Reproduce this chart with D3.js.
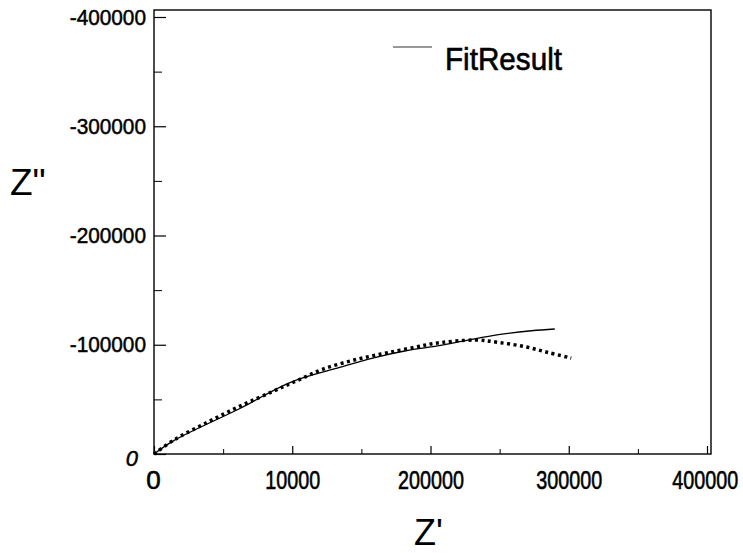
<!DOCTYPE html>
<html>
<head>
<meta charset="utf-8">
<script src="https://cdn.jsdelivr.net/npm/d3@7"></script>
<style>
  html, body { margin: 0; padding: 0; background: #fff; }
  svg { display: block; }
  text { font-family: "Liberation Sans", Arial, sans-serif; fill: #000; }
</style>
</head>
<body>
<svg id="chart" width="743" height="553"></svg>
<script>
// ---- data (Z' in ohm, Z'' in ohm; Z'' negative = capacitive, drawn upward) ----
const fitZre  = [0, 14600, 62500, 98400, 134300, 158200, 182200, 206100, 225300, 249200, 273100, 289900];
const fitZim  = [0, -12500, -41900, -65400, -79200, -87800, -94500, -99100, -103700, -109200, -112800, -114400];
const dataZre = [0, 14600, 38600, 62500, 86400, 103200, 122300, 146300, 170200, 194100, 201300, 232500, 249200, 268400, 285100, 301800];
const dataZim = [0, -13000, -29000, -44000, -57500, -67000, -77700, -86500, -93000, -99100, -101000, -104300, -102100, -98200, -92900, -87800];
const xTickValues = [0, 100000, 200000, 300000, 400000];
const xTickLabels = ["0", "10000", "200000", "300000", "400000"];
const yTickValues = [0, -100000, -200000, -300000, -400000];
const yTickLabels = ["0", "-100000", "-200000", "-300000", "-400000"];
const xMinorTicks = [50000, 150000, 250000, 350000];
const yMinorTicks = [-50000, -150000, -250000, -350000];
const legendLabel = "FitResult";

const svg = d3.select("#chart");
const L = 154, R = 711, T = 10, B = 454;

const x = d3.scaleLinear().domain([0, 400000]).range([L, 707]);
const y = d3.scaleLinear().domain([0, -400000]).range([B, 17]);

// frame
svg.append("rect")
  .attr("x", L).attr("y", T).attr("width", R - L).attr("height", B - T)
  .attr("fill", "none").attr("stroke", "#000").attr("stroke-width", 1.4);

// x axis (ticks inward)
const xAxis = svg.append("g").attr("transform", `translate(0,${B})`)
  .call(d3.axisBottom(x).tickValues(xTickValues).tickSize(-8).tickPadding(17)
        .tickFormat((d, i) => xTickLabels[i]));
xAxis.select(".domain").remove();
xAxis.selectAll("line").attr("stroke", "#000").attr("stroke-width", 1.2);
xAxis.selectAll("text")
  .attr("font-size", 26)
  .attr("font-family", "Liberation Sans, Arial, sans-serif")
  .attr("stroke", "#000").attr("stroke-width", 0.6)
  .attr("transform", "scale(0.76,1)");
xAxis.selectAll(".tick").filter(d => d === 0).select("text").attr("transform", null).attr("dx", -1);
xAxis.selectAll(".tick").filter(d => d === 400000).select("text").attr("dx", -3);

const xMinor = svg.append("g").attr("transform", `translate(0,${B})`)
  .call(d3.axisBottom(x).tickValues(xMinorTicks).tickSize(-5).tickFormat(""));
xMinor.select(".domain").remove();
xMinor.selectAll("line").attr("stroke", "#000").attr("stroke-width", 1);

// y axis (ticks inward)
const yAxis = svg.append("g").attr("transform", `translate(${L},0)`)
  .call(d3.axisLeft(y).tickValues(yTickValues).tickSize(-12).tickPadding(8)
        .tickFormat((d, i) => yTickLabels[i]));
yAxis.select(".domain").remove();
yAxis.selectAll("line").attr("stroke", "#000").attr("stroke-width", 1.2);
yAxis.selectAll("text")
  .attr("font-size", 22)
  .attr("font-family", "Liberation Sans, Arial, sans-serif")
  .attr("stroke", "#000").attr("stroke-width", 0.5)
  .each(function(d, i) {
    const s = yTickLabels[i];
    if (s.length > 1) d3.select(this).attr("textLength", s.length * 10.9).attr("lengthAdjust", "spacingAndGlyphs");
  });
yAxis.selectAll(".tick").filter(d => d === 0).select("text")
  .attr("font-style", "italic").attr("x", -16).attr("dy", "0.5em");

const yMinor = svg.append("g").attr("transform", `translate(${L},0)`)
  .call(d3.axisLeft(y).tickValues(yMinorTicks).tickSize(-8).tickFormat(""));
yMinor.select(".domain").remove();
yMinor.selectAll("line").attr("stroke", "#000").attr("stroke-width", 1);

// axis titles
svg.append("text").attr("x", 10).attr("y", 195)
  .attr("font-size", 37).text("Z\"");
svg.append("text").attr("x", 414).attr("y", 545)
  .attr("font-size", 36).text("Z'");

// series
const line = d3.line().x(d => x(d[0])).y(d => y(d[1])).curve(d3.curveCatmullRom);
const fitPts = fitZre.map((v, i) => [v, fitZim[i]]);
const dataPts = dataZre.map((v, i) => [v, dataZim[i]]);

svg.append("path").datum(fitPts).attr("d", line)
  .attr("fill", "none").attr("stroke", "#000").attr("stroke-width", 1.3);

svg.append("path").datum(dataPts).attr("d", line)
  .attr("fill", "none").attr("stroke", "#000").attr("stroke-width", 3.5)
  .attr("stroke-dasharray", "3,3.5");

// legend
svg.append("line").attr("x1", 393).attr("x2", 432).attr("y1", 47).attr("y2", 47)
  .attr("stroke", "#333").attr("stroke-width", 1.2);
svg.append("text").attr("x", 445).attr("y", 70).attr("font-size", 31)
  .attr("stroke", "#000").attr("stroke-width", 0.6)
  .attr("textLength", 117).attr("lengthAdjust", "spacingAndGlyphs")
  .text(legendLabel);
</script>
</body>
</html>
